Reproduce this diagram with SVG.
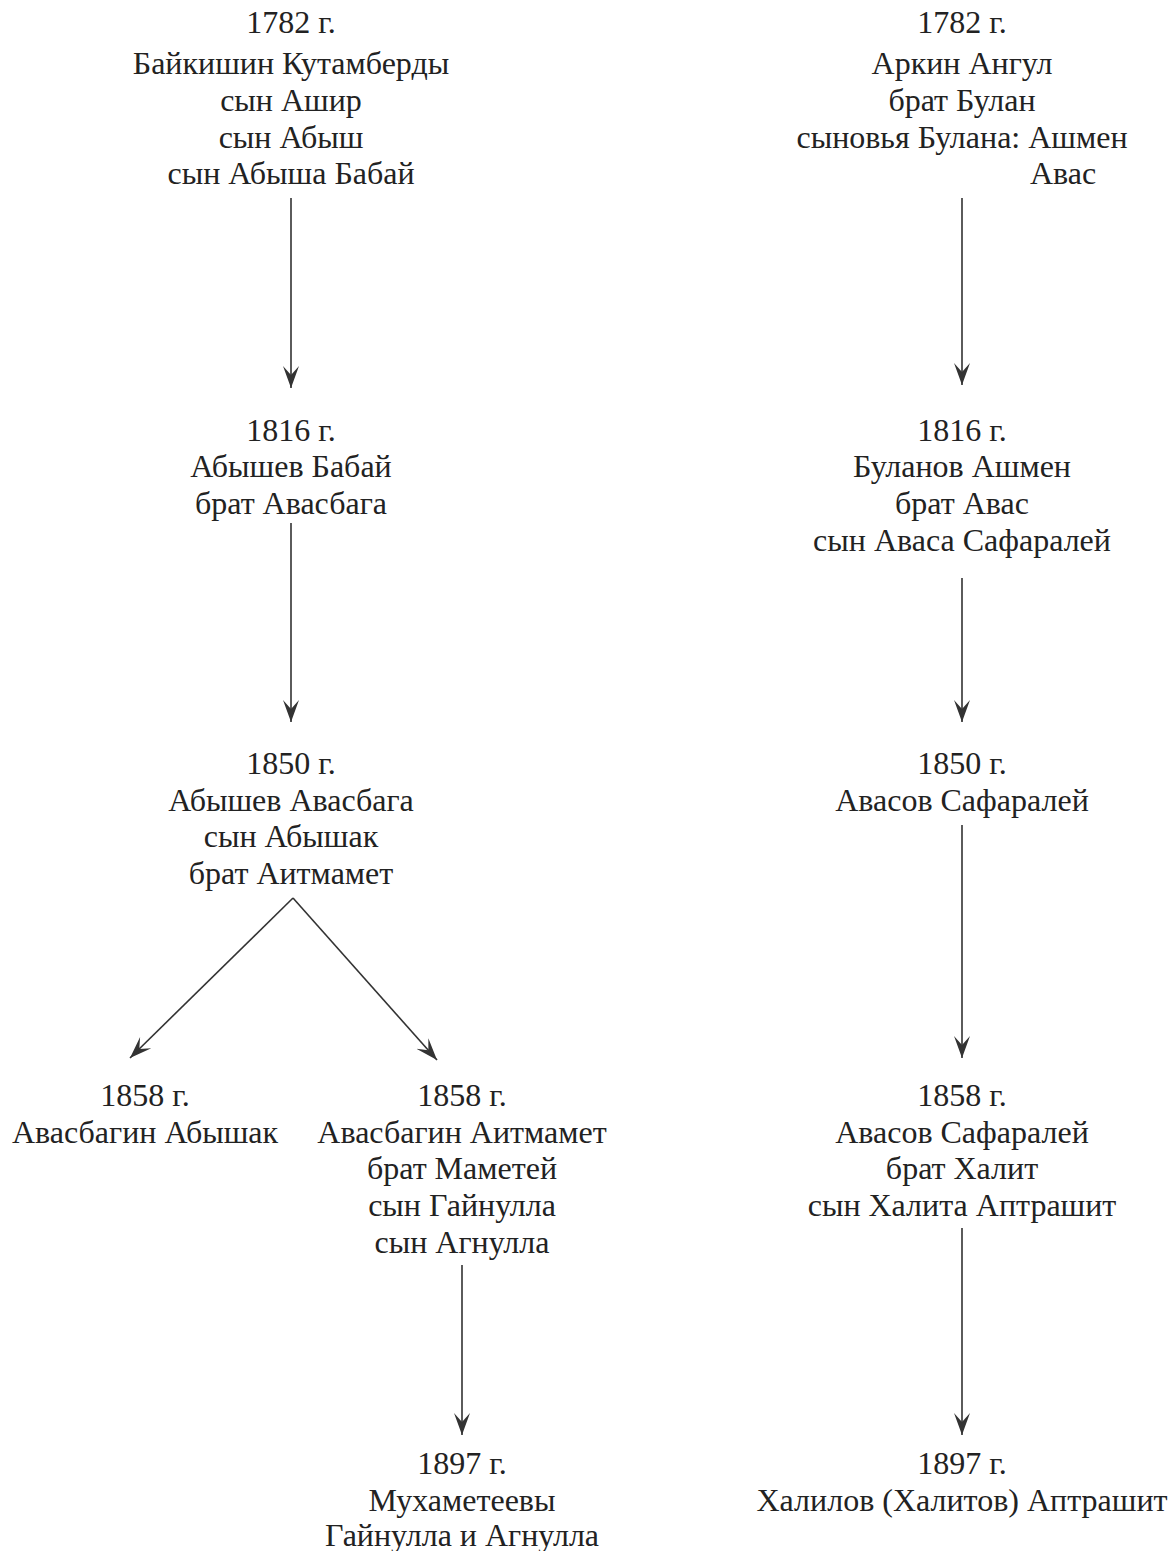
<svg xmlns="http://www.w3.org/2000/svg" width="1174" height="1551" viewBox="0 0 1174 1551">
<style>
text{font-family:"Liberation Serif","Times New Roman",serif;font-size:32px;fill:#222;text-anchor:middle}
.c line{stroke:#333;stroke-width:1.6;fill:none}
</style>
<defs>
<marker id="ah" markerUnits="userSpaceOnUse" markerWidth="24" markerHeight="24" viewBox="-22 -12 24 24" refX="0" refY="0" orient="auto">
<path d="M0,0 L-22,-8 L-13,0 L-22,8 Z" fill="#333"/>
</marker>
</defs>
<rect width="1174" height="1551" fill="#fff"/>
<g class="c" id="connectors">
<line x1="291" y1="198" x2="291" y2="388" marker-end="url(#ah)"/>
<line x1="291" y1="523" x2="291" y2="722" marker-end="url(#ah)"/>
<line x1="293" y1="898" x2="130" y2="1058" marker-end="url(#ah)"/>
<line x1="293" y1="898" x2="437" y2="1060" marker-end="url(#ah)"/>
<line x1="462" y1="1265" x2="462" y2="1435" marker-end="url(#ah)"/>
<line x1="962" y1="198" x2="962" y2="385" marker-end="url(#ah)"/>
<line x1="962" y1="578" x2="962" y2="722" marker-end="url(#ah)"/>
<line x1="962" y1="825" x2="962" y2="1058" marker-end="url(#ah)"/>
<line x1="962" y1="1228" x2="962" y2="1435" marker-end="url(#ah)"/>
</g>
<g id="n1782a"><text x="291" y="33">1782 г.</text><text x="291" y="74">Байкишин Кутамберды</text><text x="291" y="111">сын Ашир</text><text x="291" y="148">сын Абыш</text><text x="291" y="184">сын Абыша Бабай</text></g>
<g id="n1816a"><text x="291" y="441">1816 г.</text><text x="291" y="477">Абышев Бабай</text><text x="291" y="514">брат Авасбага</text></g>
<g id="n1850a"><text x="291" y="774">1850 г.</text><text x="291" y="811">Абышев Авасбага</text><text x="291" y="847">сын Абышак</text><text x="291" y="884">брат Аитмамет</text></g>
<g id="n1858a"><text x="145" y="1106">1858 г.</text><text x="145" y="1143">Авасбагин Абышак</text></g>
<g id="n1858b"><text x="462" y="1106">1858 г.</text><text x="462" y="1143">Авасбагин Аитмамет</text><text x="462" y="1179">брат Маметей</text><text x="462" y="1216">сын Гайнулла</text><text x="462" y="1253">сын Агнулла</text></g>
<g id="n1897a"><text x="462" y="1474">1897 г.</text><text x="462" y="1511">Мухаметеевы</text><text x="462" y="1546">Гайнулла и Агнулла</text></g>
<g id="n1782b"><text x="962" y="33">1782 г.</text><text x="962" y="74">Аркин Ангул</text><text x="962" y="111">брат Булан</text><text x="962" y="148">сыновья Булана: Ашмен</text><text x="1063" y="184">Авас</text></g>
<g id="n1816b"><text x="962" y="441">1816 г.</text><text x="962" y="477">Буланов Ашмен</text><text x="962" y="514">брат Авас</text><text x="962" y="551">сын Аваса Сафаралей</text></g>
<g id="n1850b"><text x="962" y="774">1850 г.</text><text x="962" y="811">Авасов Сафаралей</text></g>
<g id="n1858c"><text x="962" y="1106">1858 г.</text><text x="962" y="1143">Авасов Сафаралей</text><text x="962" y="1179">брат Халит</text><text x="962" y="1216">сын Халита Аптрашит</text></g>
<g id="n1897b"><text x="962" y="1474">1897 г.</text><text x="962" y="1511">Халилов (Халитов) Аптрашит</text></g>
</svg>
